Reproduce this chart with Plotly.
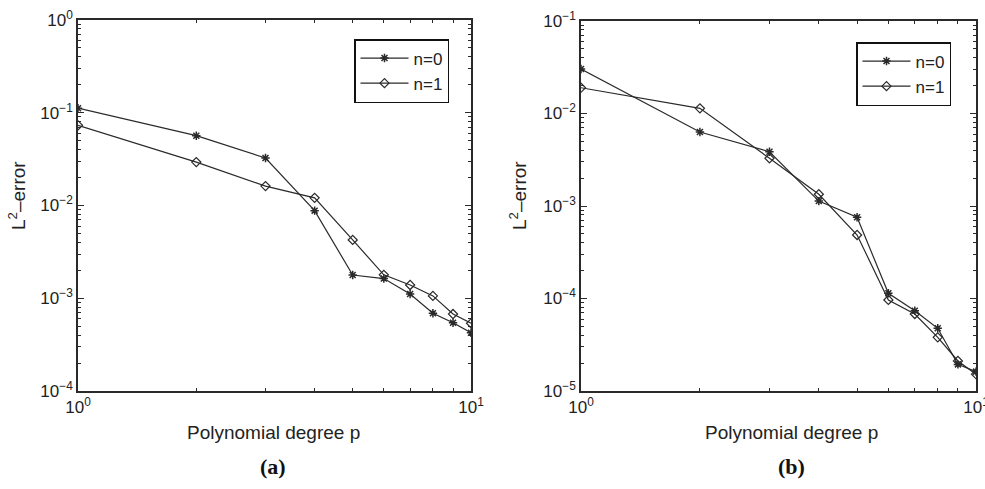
import plotly.graph_objects as go

p = [1, 2, 3, 4, 5, 6, 7, 8, 9, 10]

# Panel (a)
a_n0 = [0.112, 0.0566, 0.0325, 0.0088, 0.00178, 0.00163, 0.00111, 0.000688, 0.000545, 0.000425]
a_n1 = [0.0732, 0.0294, 0.0162, 0.0121, 0.00425, 0.00179, 0.00139, 0.00106, 0.000676, 0.000537]

# Panel (b)
b_n0 = [0.0303, 0.0063, 0.00386, 0.00113, 0.000755, 0.000114, 7.38e-5, 4.76e-5, 1.94e-5, 1.62e-5]
b_n1 = [0.0190, 0.01138, 0.00328, 0.00134, 0.000486, 9.64e-5, 6.8e-5, 3.8e-5, 2.11e-5, 1.52e-5]

series_names = ["n=0", "n=1"]
x_tickvals = [1, 10]
x_ticktext = ["10<sup>0</sup>", "10<sup>1</sup>"]
a_ytickvals = [1e-4, 1e-3, 1e-2, 1e-1, 1e0]
a_yticktext = ["10<sup>−4</sup>", "10<sup>−3</sup>", "10<sup>−2</sup>", "10<sup>−1</sup>", "10<sup>0</sup>"]
b_ytickvals = [1e-5, 1e-4, 1e-3, 1e-2, 1e-1]
b_yticktext = ["10<sup>−5</sup>", "10<sup>−4</sup>", "10<sup>−3</sup>", "10<sup>−2</sup>", "10<sup>−1</sup>"]
x_title = "Polynomial degree p"
y_title = "L<sup>2</sup>–error"
panel_labels = ["(a)", "(b)"]

W, H = 985, 489
LC = "#2a2a2a"
FONT = "Liberation Sans, Arial, sans-serif"

def minor_vals(lo_exp, hi_exp):
    out = []
    for e in range(lo_exp, hi_exp):
        for k in range(2, 10):
            out.append(k * 10 ** e)
    return out

fig = go.Figure()

def add_series(xax, yax, y0, y1, legend):
    fig.add_trace(go.Scatter(
        x=p, y=y0, name=series_names[0], mode="lines+markers",
        xaxis=xax, yaxis=yax, legend=legend,
        line=dict(color=LC, width=1.2),
        marker=dict(symbol="asterisk-open", size=7, color=LC, line=dict(color=LC, width=1.5)),
    ))
    fig.add_trace(go.Scatter(
        x=p, y=y1, name=series_names[1], mode="lines+markers",
        xaxis=xax, yaxis=yax, legend=legend,
        line=dict(color=LC, width=1.2),
        marker=dict(symbol="diamond-open", size=7, color=LC, line=dict(color=LC, width=1.2)),
    ))

add_series("x", "y", a_n0, a_n1, "legend")
add_series("x2", "y2", b_n0, b_n1, "legend2")

def px_x(v):
    return v / W

def px_y(v):
    return 1 - v / H

axis_common = dict(
    showline=True, linecolor=LC, linewidth=1.5, mirror="ticks",
    ticks="inside", ticklen=6, tickcolor=LC, tickwidth=1,
    showgrid=False, zeroline=False, automargin=False,
    ticklabeloverflow="allow",
    tickfont=dict(family=FONT, size=17, color="#222"),
)

xaxis_cfg = dict(axis_common, type="log", range=[0, 1],
                 tickvals=x_tickvals, ticktext=x_ticktext,
                 minor=dict(tickvals=minor_vals(0, 1), ticks="inside", ticklen=3, tickcolor=LC, showgrid=False))

legend_common = dict(xanchor="left", yanchor="top",
                     bgcolor="white", bordercolor="#111", borderwidth=1.5,
                     font=dict(family=FONT, size=17, color="#222"),
                     tracegroupgap=0, itemwidth=48)

fig.update_layout(
    width=W, height=H,
    margin=dict(l=0, r=0, t=0, b=0, autoexpand=False),
    paper_bgcolor="white", plot_bgcolor="white",
    font=dict(family=FONT, color="#222"),
    xaxis=dict(xaxis_cfg, domain=[px_x(78), px_x(471)], anchor="y"),
    yaxis=dict(axis_common, type="log", range=[-4, 0], domain=[px_y(391), px_y(20)], anchor="x",
               tickvals=a_ytickvals, ticktext=a_yticktext,
               minor=dict(tickvals=minor_vals(-4, 0), ticks="inside", ticklen=3, tickcolor=LC, showgrid=False)),
    xaxis2=dict(xaxis_cfg, domain=[px_x(581), px_x(976)], anchor="y2"),
    yaxis2=dict(axis_common, type="log", range=[-5, -1], domain=[px_y(391), px_y(21)], anchor="x2",
                tickvals=b_ytickvals, ticktext=b_yticktext,
                minor=dict(tickvals=minor_vals(-5, -1), ticks="inside", ticklen=3, tickcolor=LC, showgrid=False)),
    legend=dict(legend_common, x=px_x(354), y=px_y(39)),
    legend2=dict(legend_common, x=px_x(856), y=px_y(42)),
    showlegend=True,
)

annots = [
    dict(x=px_x(273), y=px_y(432), text=x_title, font=dict(size=19)),
    dict(x=px_x(791), y=px_y(432), text=x_title, font=dict(size=19)),
    dict(x=px_x(17), y=px_y(196), text=y_title, textangle=-90, font=dict(size=19)),
    dict(x=px_x(518), y=px_y(196), text=y_title, textangle=-90, font=dict(size=19)),
    dict(x=px_x(273), y=px_y(466), text="<b>" + panel_labels[0] + "</b>",
         font=dict(size=22, family="Liberation Serif, Times New Roman, serif", color="#111")),
    dict(x=px_x(791), y=px_y(466), text="<b>" + panel_labels[1] + "</b>",
         font=dict(size=22, family="Liberation Serif, Times New Roman, serif", color="#111")),
]
for a in annots:
    a.update(xref="paper", yref="paper", showarrow=False, xanchor="center", yanchor="middle")
    a["font"].setdefault("family", FONT)
    a["font"].setdefault("color", "#222")
    fig.add_annotation(**a)

fig.write_html("out.html")
